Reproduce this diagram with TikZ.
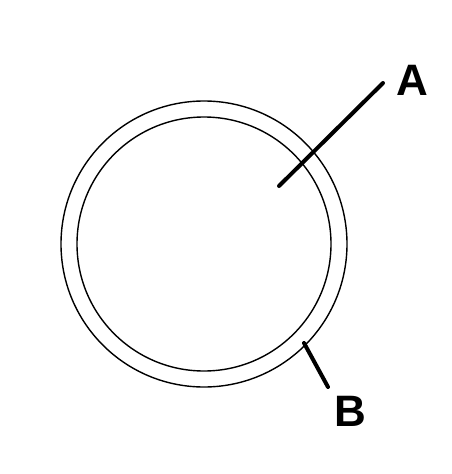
\documentclass[tikz,border=0pt]{standalone}
\usepackage{fontspec}
\setmainfont{Liberation Sans}
\begin{document}
\begin{tikzpicture}[x=1pt,y=-1pt,
  ring/.style={draw=black,line width=1.4pt},
  leader/.style={draw=black,line width=4pt,line cap=round},
  lbl/.style={font=\fontsize{44}{44}\selectfont\bfseries,inner sep=0pt}]
\useasboundingbox[fill=white] (0,0) rectangle (451,474);
\coordinate (c) at (204,244);
\draw[ring] (c) circle[radius=143];
\draw[ring] (c) circle[radius=127];
\coordinate (a1) at (279,186);
\coordinate (a2) at (383,83);
\coordinate (b1) at (304,343);
\coordinate (b2) at (328,387);
\draw[leader] (a1) -- (a2);
\draw[leader] (b1) -- (b2);
\node[lbl] (A) at (412,80) {A};
\node[lbl] (B) at (350,411) {B};
\end{tikzpicture}
\end{document}
